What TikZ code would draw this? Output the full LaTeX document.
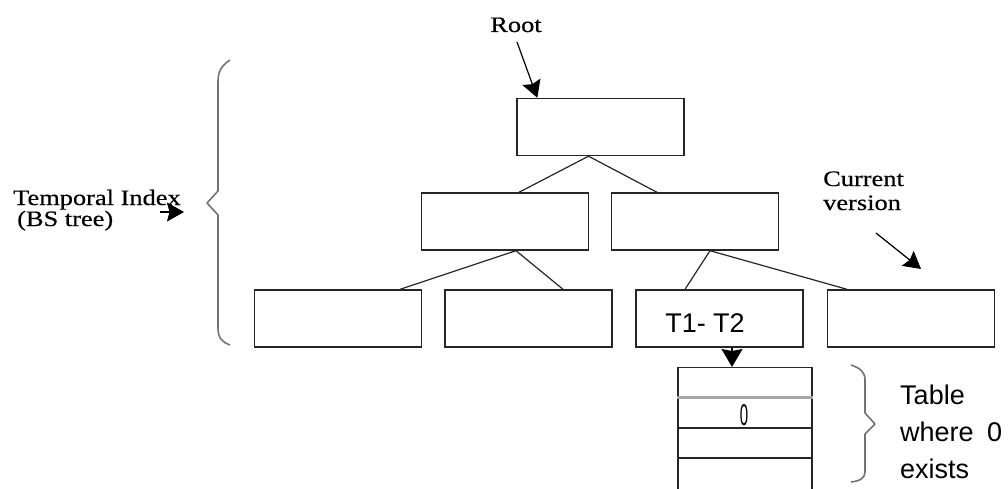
\documentclass[tikz,border=0pt]{standalone}
\usepackage{fontspec}
\setmainfont{Liberation Serif}
\newfontfamily\notefont[FakeStretch=1.2,FakeBold=0.4]{Liberation Serif}
\newfontfamily\cellfont{Liberation Sans}
\newfontfamily\digitfont[FakeStretch=0.5]{Liberation Sans}
\usetikzlibrary{arrows.meta}
\colorlet{boxline}{black!85}
\colorlet{braceline}{black!55}
\tikzset{
  treenode/.style={draw=boxline,line width=1.4pt,minimum width=167pt,minimum height=57pt,inner sep=0pt},
  link/.style={draw=boxline,line width=1.2pt},
  pointer/.style={arrows={-Stealth[length=17pt,width=19pt,inset=2.5pt]},line width=1.2pt},
  notetext/.style={font=\notefont\fontsize{22}{21}\selectfont,inner sep=0pt},
  celltext/.style={font=\cellfont\fontsize{27}{37}\selectfont,inner sep=0pt},
  bracepath/.style={draw=braceline,line width=1.6pt,line join=round}
}

\begin{document}
\begin{tikzpicture}[x=1pt,y=-1pt]
  \useasboundingbox[fill=white] (0,0) rectangle (1008,489);
  % index tree
  \node[treenode] (root) at (600.5,127) {};
  \node[treenode] (midl) at (505,221.5) {};
  \node[treenode] (midr) at (695,221.5) {};
  \node[treenode] (leafa) at (338,318.5) {};
  \node[treenode] (leafb) at (528.5,318.5) {};
  \node[treenode] (leafc) at (719.5,318.5) {};
  \node[treenode] (leafd) at (911,318.5) {};
  \node[celltext] (span) at (705,323) {T1- T2};
  \draw[link] ([xshift=-12pt]root.south) -- ([xshift=14pt]midl.north);
  \draw[link] ([xshift=-12pt]root.south) -- ([xshift=-38pt]midr.north);
  \draw[link] ([xshift=11pt]midl.south) -- ([xshift=62pt]leafa.north);
  \draw[link] ([xshift=11pt]midl.south) -- ([xshift=34.5pt]leafb.north);
  \draw[link] ([xshift=15pt]midr.south) -- ([xshift=-34.5pt]leafc.north);
  \draw[link] ([xshift=15pt]midr.south) -- ([xshift=-64pt]leafd.north);
  % version table under T1-T2
  \node[draw=boxline,line width=1.4pt,minimum width=134pt,minimum height=140pt,inner sep=0pt,anchor=north] (tbl) at (745,367) {};
  \draw[line width=3pt,black!35] ([yshift=-30pt]tbl.north west) -- ([yshift=-30pt]tbl.north east);
  \foreach \d in {61,91}
    \draw[line width=1.4pt,boxline] ([yshift=-\d pt]tbl.north west) -- ([yshift=-\d pt]tbl.north east);
  \node[font=\digitfont\fontsize{30}{30}\selectfont,inner sep=0pt] (zero) at (744,415) {0};
  \draw[line width=1.2pt,arrows={-Stealth[length=18pt,width=21pt,inset=2pt]}] ([xshift=12.5pt]leafc.south) -- ([xshift=-13pt]tbl.north);
  % labels and pointers
  \node[notetext,anchor=base] (rootlbl) at (516,32) {Root};
  \draw[pointer] ([xshift=1pt,yshift=-10pt]rootlbl.base) -- ([xshift=21pt]root.north west);
  \node[notetext,anchor=base west,align=left] (indexlbl) at (13,226) {Temporal Index\\\hspace{4pt}(BS tree)};
  \coordinate (idxtail) at (160,212);
  \coordinate (idxtip) at (184,212);
  \draw[pointer] (idxtail) -- (idxtip);
  \node[notetext,anchor=base west,align=left,font=\notefont\fontsize{22}{24}\selectfont] (curlbl) at (823,210) {Current\\version};
  \coordinate (curtail) at (876,233);
  \coordinate (curtip) at (921,269);
  \draw[pointer] (curtail) -- (curtip);
  \node[celltext,anchor=base west,align=left] (tblnote) at (900,478) {Table\\where\hspace{0.5em}0\\exists};
  % braces
  \draw[bracepath] (230,60) .. controls (221,66) and (218,72) .. (218,82) -- (218,191) -- (207,203) -- (218,215) -- (218,328) .. controls (218,338) and (222,342) .. (230,345);
  \draw[bracepath] (851,365) .. controls (860,368) and (865,372) .. (865,380) -- (865,413) -- (875,424) -- (865,434) -- (865,472) .. controls (865,478) and (860,481) .. (851,482);
\end{tikzpicture}
\end{document}
